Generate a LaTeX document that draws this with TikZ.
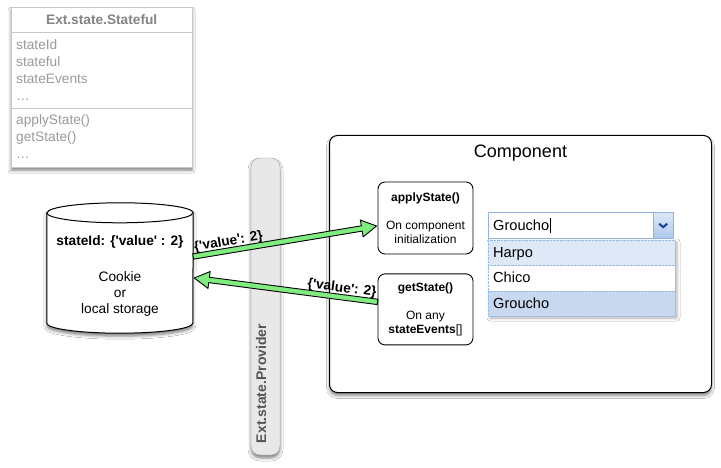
\documentclass[tikz,border=0pt]{standalone}
\usepackage{fontspec}
\setmainfont{Liberation Sans}[Ligatures=TeXOff]
\usetikzlibrary{positioning,calc,shadows.blur}

\definecolor{umlgray}{HTML}{9B9B9B}
\definecolor{umlline}{HTML}{C8C8C8}
\definecolor{barfill}{HTML}{E8E8E8}
\definecolor{bartext}{HTML}{555555}
\definecolor{flowgreen}{HTML}{80EC80}
\definecolor{fieldblue}{HTML}{8DB2E3}
\definecolor{extblue}{HTML}{99BBE8}
\definecolor{extrow}{HTML}{DFE8F6}
\definecolor{extpick}{HTML}{C7D8EF}
\definecolor{extnavy}{HTML}{15428B}

\tikzset{
  softshadow/.style={blur shadow={shadow xshift=0pt,shadow yshift=-3pt,shadow blur radius=3pt,shadow opacity=50}},
  umltext/.style={anchor=base west,inner sep=0pt,text=umlgray,font=\fontsize{13.7}{16}\selectfont},
  plaintext/.style={anchor=base,inner sep=0pt,font=\fontsize{13.7}{16}\selectfont},
  callbox/.style={draw,line width=0.9pt,rounded corners=7pt,fill=white,minimum width=95pt,align=center,inner sep=0pt,font=\fontsize{12}{14}\selectfont},
  flowlabel/.style={sloped,above=2pt,inner sep=0pt,font=\bfseries\fontsize{13.7}{16}\selectfont},
  listrow/.style={draw=extblue,densely dotted,minimum width=187pt,minimum height=25.3pt,anchor=north west,inner sep=0pt},
  listtext/.style={anchor=base west,inner sep=0pt,font=\fontsize{14.6}{16}\selectfont}
}

% fat green arrow from #1 to #2, label #3
\newcommand\flowarrow[3]{%
  \coordinate (neck) at ($(#2)!15pt!(#1)$);
  \filldraw[draw=black,fill=flowgreen,line width=0.9pt,line join=miter]
    ($(#1)!2.7pt!90:(#2)$) -- ($(neck)!2.7pt!90:(#2)$) -- ($(neck)!8.5pt!90:(#2)$)
    -- (#2) -- ($(neck)!8.5pt!-90:(#2)$) -- ($(neck)!2.7pt!-90:(#2)$)
    -- ($(#1)!2.7pt!-90:(#2)$) -- cycle;
  \path (#1) -- node[flowlabel,pos=0.2]{#3} (#2);
}

\begin{document}
\begin{tikzpicture}[x=1pt,y=-1pt]
\path[use as bounding box,fill=white] (0,0) rectangle (721,468);

% Stateful class
\node[draw=umlline,fill=white,softshadow,minimum width=181pt,minimum height=160pt,anchor=north west,inner sep=0pt] (stateful) at (11,7) {};
\node[plaintext,text=umlgray!85!black,font=\bfseries\fontsize{13.7}{16}\selectfont] at ($(stateful.north)+(0,18)$) {Ext.state.Stateful};
\draw[umlline] ($(stateful.north west)+(0,25)$) -- ($(stateful.north east)+(0,25)$);
\draw[umlline] ($(stateful.north west)+(0,101)$) -- ($(stateful.north east)+(0,101)$);
\foreach \t [count=\i] in {stateId,stateful,stateEvents,\ldots}
  \node[umltext] at (16,{32.5+17*\i}) {\t};
\foreach \t [count=\i] in {applyState(),getState(),\ldots}
  \node[umltext] at (16,{108+17*\i}) {\t};

% storage
\node[minimum width=146pt,minimum height=130pt,inner sep=0pt] (store) at (120,268) {};
\filldraw[fill=white,line width=1pt,softshadow]
  ($(store.north west)+(0,10)$) -- ($(store.south west)+(0,-10)$)
  arc[start angle=180,end angle=360,x radius=73pt,y radius=10pt]
  -- ($(store.north east)+(0,10)$)
  arc[start angle=0,end angle=180,x radius=73pt,y radius=10pt] -- cycle;
\draw[line width=1pt] ($(store.north west)+(0,10)$) arc[start angle=180,end angle=360,x radius=73pt,y radius=10pt];
\node[plaintext,font=\bfseries\fontsize{13.7}{16}\selectfont] at (120,246) {stateId: \{'value' : 2\}};
\foreach \t/\y in {Cookie/281,or/297,local storage/313}
  \node[plaintext] at (120,\y) {\t};

% provider
\node[draw=gray!70,fill=barfill,rounded corners=9pt,softshadow,minimum width=29pt,minimum height=297pt,inner sep=0pt] (provider) at (265.5,306.5) {};
\node[rotate=90,anchor=base west,inner sep=0pt,text=bartext,font=\bfseries\fontsize{14}{16}\selectfont] at ($(provider.south)+(0.5,-12)$) {Ext.state.Provider};

% component
\node[draw,line width=1pt,fill=white,rounded corners=8pt,softshadow,minimum width=382pt,minimum height=257pt,anchor=north west,inner sep=0pt] (comp) at (329,135) {};
\node[plaintext,font=\fontsize{18}{20}\selectfont] at ($(comp.north)+(0,23)$) {Component};
\node[callbox,minimum height=72pt] (apply) at (425.5,218) {\textbf{applyState()}\\[14.5pt]On component\\initialization};
\node[callbox,minimum height=71pt,below=19pt of apply] (get) {\textbf{getState()}\\[14pt]On any\\\textbf{stateEvents}[]};

% combo box
\node[draw=fieldblue,fill=white,minimum width=185pt,minimum height=26pt,anchor=north west,inner sep=0pt] (combo) at (488,212) {};
\node[draw=fieldblue,top color=extrow,bottom color=extblue!80,minimum width=20pt,minimum height=26pt,anchor=north east,inner sep=0pt] (trigger) at (combo.north east) {};
\draw[extnavy,line width=2pt] ($(trigger.center)+(-4,-1.5)$) -- ++(4,3.5) -- ++(4,-3.5);
\node[listtext] (combotext) at ($(combo.north west)+(5,19)$) {Groucho};
\draw[line width=0.7pt] ([xshift=0.8pt]combotext.base east) ++(0,2) -- ++(0,-15);
\path[fill=white,blur shadow={shadow xshift=2pt,shadow yshift=-2pt,shadow blur radius=3pt,shadow opacity=30}] (488,240) rectangle (675,316);
\foreach \name/\tint [count=\i from 0] in {Harpo/extrow,Chico/white,Groucho/extpick}{
  \node[listrow,fill=\tint] (row\i) at (488,{240+25.3*\i}) {};
  \node[listtext] at ($(row\i.north west)+(5,17.5)$) {\name};
}

% flows
\coordinate (storeout) at ($(store.east)+(0,-11.5)$);
\coordinate (applyin) at ($(apply.west)+(-1,8)$);
\coordinate (getout) at ($(get.west)+(0,-7.5)$);
\coordinate (storein) at ($(store.east)+(1,10)$);
\flowarrow{storeout}{applyin}{\{'value': 2\}}
\flowarrow{getout}{storein}{\{'value': 2\}}
\end{tikzpicture}
\end{document}
